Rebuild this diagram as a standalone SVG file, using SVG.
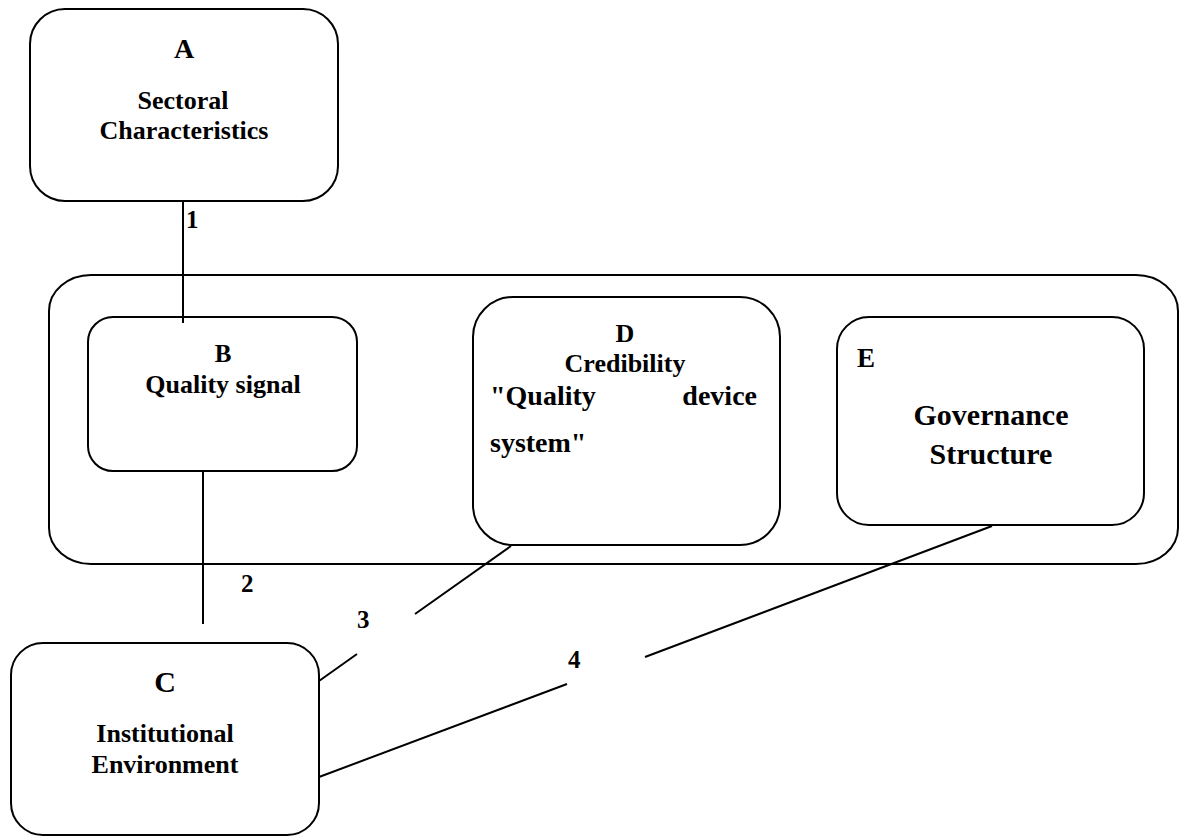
<svg xmlns="http://www.w3.org/2000/svg" width="1179" height="837" viewBox="0 0 1179 837">
<style>
.box{fill:#fff;stroke:#000;stroke-width:2}
.cont{fill:none;stroke:#000;stroke-width:2}
.ln{stroke:#000;stroke-width:2;fill:none}
text{font-family:"Liberation Serif","Times New Roman",serif;font-weight:bold;fill:#000}
.c{text-anchor:middle}
</style>
<rect width="1179" height="837" fill="#fff"/>
<g id="container">
<rect class="cont" x="49" y="275" width="1129" height="289" rx="42" ry="36"/>
</g>
<g id="nodeA">
<rect class="box" x="30" y="9" width="308" height="192" rx="35"/>
<text class="c" x="184" y="58" font-size="28">A</text>
<text class="c" x="183" y="109" font-size="26">Sectoral</text>
<text class="c" x="184" y="139" font-size="26">Characteristics</text>
</g>
<g id="nodeB">
<rect class="box" x="88" y="317" width="269" height="154" rx="25"/>
<text class="c" x="223" y="362" font-size="25">B</text>
<text class="c" x="223" y="393" font-size="26">Quality signal</text>
</g>
<g id="nodeD">
<rect class="box" x="473" y="297" width="307" height="248" rx="40"/>
<text class="c" x="625" y="342" font-size="26">D</text>
<text class="c" x="625" y="372" font-size="26">Credibility</text>
<text x="490" y="405" font-size="28">"Quality</text>
<text x="757" y="405" font-size="28" text-anchor="end">device</text>
<text x="490" y="452" font-size="28">system"</text>
</g>
<g id="nodeE">
<rect class="box" x="837" y="317" width="307" height="208" rx="32"/>
<text x="857" y="367" font-size="27">E</text>
<text class="c" x="991" y="425" font-size="30">Governance</text>
<text class="c" x="991" y="464" font-size="30">Structure</text>
</g>
<g id="nodeC">
<rect class="box" x="11" y="643" width="308" height="192" rx="32"/>
<text class="c" x="165" y="692" font-size="30">C</text>
<text class="c" x="165" y="742" font-size="26">Institutional</text>
<text class="c" x="165" y="773" font-size="26">Environment</text>
</g>
<g id="connectors">
<line class="ln" x1="183" y1="201" x2="183" y2="323"/>
<line class="ln" x1="203" y1="471" x2="203" y2="624"/>
<line class="ln" x1="511" y1="546" x2="415" y2="614"/>
<line class="ln" x1="357" y1="654" x2="319" y2="681"/>
<line class="ln" x1="992" y1="526" x2="645" y2="657"/>
<line class="ln" x1="567" y1="684" x2="319" y2="777"/>
<text x="186" y="228" font-size="25">1</text>
<text x="241" y="592" font-size="25">2</text>
<text x="357" y="628" font-size="25">3</text>
<text x="568" y="668" font-size="25">4</text>
</g>
</svg>
